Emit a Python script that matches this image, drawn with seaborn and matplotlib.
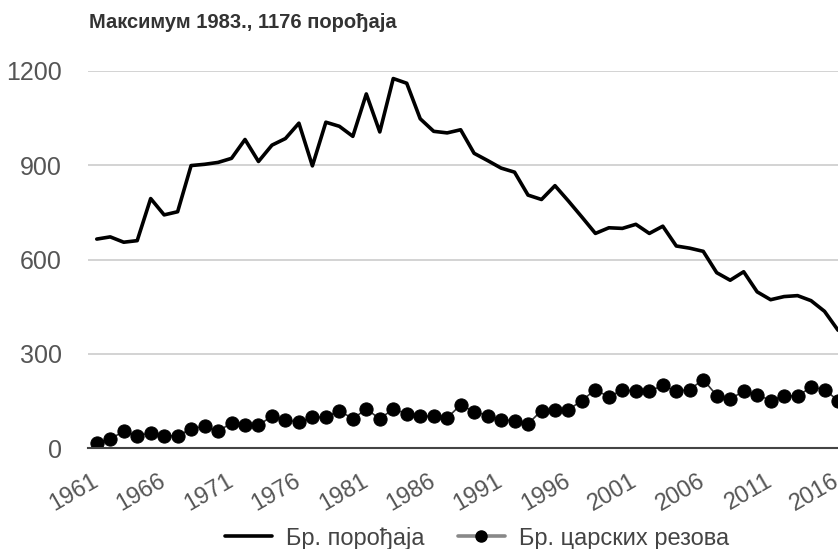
import pandas as pd
import seaborn as sns
import matplotlib.pyplot as plt
import matplotlib.transforms as mtransforms
from matplotlib.lines import Line2D

years = list(range(1961, 2017))

# Бр. порођаја (očitano sa slike)
births = [665, 672, 655, 660, 794, 742, 752, 899, 903, 909,
          922, 982, 912, 964, 985, 1034, 898, 1037, 1024, 992,
          1127, 1006, 1176, 1161, 1048, 1008, 1003, 1013, 938, 915,
          891, 878, 805, 791, 835, 786, 735, 683, 701, 699,
          712, 683, 706, 643, 636, 626, 558, 534, 561, 497,
          472, 482, 485, 469, 435, 375]

# Бр. царских резова
csections = [16, 29, 53, 39, 48, 39, 39, 61, 69, 53,
             80, 73, 73, 101, 90, 82, 98, 98, 119, 93,
             124, 93, 124, 109, 101, 101, 96, 137, 116, 103,
             90, 87, 77, 119, 122, 122, 151, 186, 162, 186,
             180, 181, 199, 181, 186, 218, 167, 156, 181, 170,
             151, 167, 165, 194, 186, 151]

df = pd.DataFrame({'year': years, 'births': births, 'cs': csections})

sns.set_style('white')
plt.rcParams['font.family'] = ['Liberation Sans', 'DejaVu Sans']

fig = plt.figure(figsize=(8.38, 5.49), dpi=100)
ax = fig.add_axes([88 / 838, 101 / 549, 750 / 838, 377 / 549])

sns.lineplot(data=df, x='year', y='births', ax=ax, color='black', linewidth=2.6)
sns.lineplot(data=df, x='year', y='cs', ax=ax, color='#333333', linewidth=1.2,
             marker='o', markersize=9.5, markerfacecolor='black', markeredgecolor='black')

ax.set_xlim(1960.35, 2016.0)
ax.set_ylim(0, 1200)
ax.set_yticks([0, 300, 600, 900, 1200])
ax.set_xticks(years[::5])
ax.set_xticklabels([str(y) for y in years[::5]], rotation=30, ha='right',
                   rotation_mode='anchor')
ax.tick_params(axis='y', labelsize=18, labelcolor='#555555', length=0, pad=19)
ax.tick_params(axis='x', labelsize=17, labelcolor='#555555', length=0, pad=16)
shift = mtransforms.ScaledTranslation(-4 / 72, 0, fig.dpi_scale_trans)
for lab in ax.get_xticklabels():
    lab.set_transform(lab.get_transform() + shift)
ax.grid(axis='y', color='#cccccc', linewidth=1.2)
ax.set_axisbelow(True)
for s in ['top', 'right', 'left']:
    ax.spines[s].set_visible(False)
ax.spines['bottom'].set_color('#444444')
ax.spines['bottom'].set_linewidth(1.5)
ax.set_xlabel('')
ax.set_ylabel('')

fig.text(89 / 838, 1 - 22 / 549, 'Максимум 1983., 1176 порођаја', fontsize=14.5,
         fontweight='bold', color='#333333', va='center', ha='left')

handles = [Line2D([], [], color='black', linewidth=2.6),
           Line2D([], [], color='#888888', linewidth=2.6, marker='o',
                  markersize=8, markerfacecolor='black', markeredgecolor='black')]
fig.legend(handles, ['Бр. порођаја', 'Бр. царских резова'], loc='center',
           bbox_to_anchor=(477 / 838, 1 - 538 / 549), ncol=2, frameon=False,
           fontsize=17, handlelength=2.0, handletextpad=0.6, columnspacing=1.4,
           labelcolor='#444444')

fig.savefig('out.png', dpi=100)
